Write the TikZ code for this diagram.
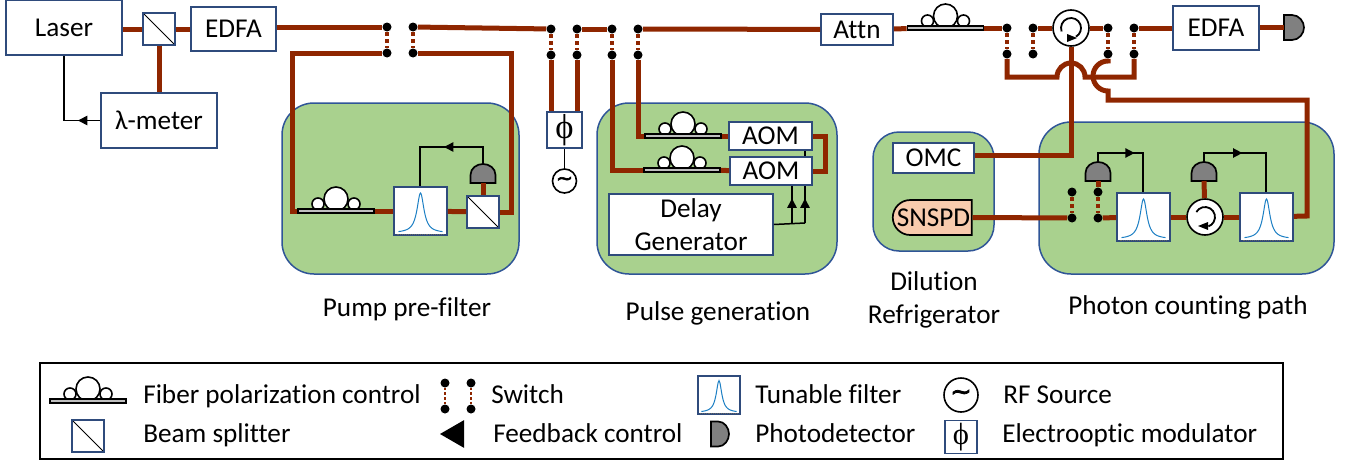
\documentclass[tikz,border=0pt]{standalone}
\usepackage{fontspec}
\setmainfont[Ligatures=NoCommon]{Carlito}
\newfontfamily\tildefont[FakeBold=3]{DejaVu Sans}
\newfontfamily\phifont{Liberation Serif}
\usetikzlibrary{arrows.meta,decorations.markings,shapes.misc,shapes.geometric}
\definecolor{fibercol}{HTML}{8F2600}
\definecolor{boxblue}{HTML}{2F4B7C}
\definecolor{panelgreen}{HTML}{A9D18E}
\definecolor{panelblue}{HTML}{2F5597}
\definecolor{peach}{HTML}{F8CBAD}
\definecolor{peakblue}{HTML}{1C7FC4}
\def\px{0.75pt}
\tikzset{
  sized/.style 2 args={minimum width=#1*\px,minimum height=#2*\px},
  box/.style={draw=boxblue,line width=1.7*\px,fill=white,inner sep=0pt,align=center},
  bsbox/.style={box,sized={32}{32},path picture={\draw[black,line width=1*\px]
    (path picture bounding box.north west) -- (path picture bounding box.south east);}},
  panel/.style={draw=panelblue,line width=1.5*\px,fill=panelgreen,rounded corners=#1*\px,inner sep=0pt},
  fiber/.style={draw=fibercol,line width=5*\px},
  ctrl/.style={draw=black,line width=1.5*\px},
  fbmark/.style={postaction={decorate,decoration={markings,
    mark=at position #1 with {\arrow{Triangle[length=7pt,width=7pt]}}}}},
  dot/.style={circle,fill=black,inner sep=0pt,minimum size=9*\px},
  swdash/.style={draw=fibercol,line width=3.5*\px,dash pattern=on 3pt off 2.5pt},
  pdbody/.style={draw=black,line width=1.7*\px,fill=black!50},
  loopline/.style={black,line width=1.6*\px,fill=white},
  wheel/.style={circle,draw=black,line width=1.6*\px,fill=white,inner sep=0pt,minimum size=#1*\px},
  lbl/.style={inner sep=0pt,anchor=base west},
  pics/fpc/.style={code={
    \draw[loopline] (-18,-7) circle (6);
    \draw[loopline] (18,-7) circle (6);
    \draw[loopline] (0,-12) circle (12);
    \node[draw=black,line width=1.6*\px,fill=black!25,inner sep=0pt,sized={76}{4}] (-bar) at (0,0) {};
  }},
  pics/tfilter/.style={code={
    \node[box,sized={53}{48}] (-box) at (0,0) {};
    \draw[peakblue,line width=1*\px] plot[smooth,domain=-22:22,samples=45] (\x,{22-40/(1+(\x/4.2)^2)});
    \draw[black!60,line width=.6*\px,densely dotted] (-24,23) -- (24,23);
  }},
  pics/pdup/.style={code={
    \draw[pdbody] (-12.5,0) -- (-12.5,-8) .. controls (-12.5,-15) and (-6,-19) .. (0,-19)
      .. controls (6,-19) and (12.5,-15) .. (12.5,-8) -- (12.5,0) -- cycle;
    \coordinate (-base) at (0,0);
    \coordinate (-top) at (0,-19);
  }},
  pics/pdright/.style={code={
    \draw[pdbody] (0,-12.5) -- (8,-12.5) .. controls (15,-12.5) and (20,-6) .. (20,0)
      .. controls (20,6) and (15,12.5) .. (8,12.5) -- (0,12.5) -- cycle;
    \coordinate (-base) at (0,0);
  }},
  pics/switch/.style={code={
    \node[dot] (-a) at (0,0) {};
    \node[dot] (-b) at (0,26) {};
    \node[dot] (-c) at (26,0) {};
    \node[dot] (-d) at (26,26) {};
    \draw[swdash] (-a) -- (-b);
    \draw[swdash] (-c) -- (-d);
  }},
}
\begin{document}
\begin{tikzpicture}[x=0.75pt,y=-0.75pt,font=\fontsize{20.4}{24.7}\selectfont]
    \useasboundingbox (0,0) rectangle (1356,464);

    % green panels
    \node[panel=32,sized={237}{171}] (pumpPanel) at (400.5,188.5) {};
    \node[panel=32,sized={240}{171}] (pulsePanel) at (717,188.5) {};
    \node[panel=26,sized={121}{119}] (fridgePanel) at (933.5,191.5) {};
    \node[panel=32,sized={295}{152}] (countPanel) at (1186.5,198) {};

    % source and top row
    \node[box,sized={116}{55}] (laser) at (64,27.5) {Laser};
    \node[bsbox] (bsA) at (159,29) {};
    \node[box,sized={85}{44}] (edfaA) at (233.5,29) {EDFA};
    \node[box,sized={116}{55}] (lmeter) at (159,120.5) {λ-meter};
    \pic (swA) at (387,27) {switch};
    \pic (swB) at (551,29) {switch};
    \pic (swC) at (612,29) {switch};
    \node[box,sized={72}{31}] (attn) at (857,29.5) {Attn};
    \pic (fpcD) at (945.5,28) {fpc};
    \pic (swD) at (1007,28) {switch};
    \pic (swE) at (1108,28) {switch};
    \node[wheel=36] (circA) at (1071,28) {};
    \node[box,sized={86}{44}] (edfaB) at (1216,28) {EDFA};
    \pic (pdD) at (1284,27.5) {pdright};

    % pump pre-filter
    \pic (fpcA) at (336,211) {fpc};
    \pic (filtA) at (420.5,211) {tfilter};
    \node[bsbox] (bsB) at (483,212) {};
    \pic (pdA) at (483,183) {pdup};
    \coordinate (pumpL) at (292,211);
    \coordinate (pumpR) at (511,212);
    \coordinate (fbA) at (420,147);

    % pulse generation
    \node[box,sized={35}{36}] (eom) at (564.5,130) {\phifont\fontsize{26}{28}\selectfont ϕ};
    \node[wheel=24] (rf) at (564.5,181) {\tildefont\fontsize{15}{15}\selectfont ∼};
    \pic (fpcB) at (683,136) {fpc};
    \pic (fpcC) at (682,170) {fpc};
    \coordinate (aomLoop) at (825,136);
    \coordinate (trigA) at (792,223);
    \coordinate (trigB) at (805,223);
    \draw[ctrl] (trigB) -- (805,150);
    \node[box,sized={83}{28}] (aomA) at (770.5,136) {AOM};
    \node[box,sized={82}{28}] (aomB) at (771,171) {AOM};
    \node[box,sized={164}{61}] (delay) at (691,224.5) {Delay\\Generator};

    % dilution refrigerator
    \node[box,sized={81}{30}] (omc) at (933.5,158) {OMC};
    \node[rounded rectangle,rounded rectangle east arc=none,draw=black,line width=1.7*\px,fill=peach,
      inner sep=0pt,sized={79}{35}] (snspd) at (933.5,217.5) {SNSPD};
    \coordinate (omcTurn) at (1071,155);

    % photon counting path
    \pic (swF) at (1072,192) {switch};
    \pic (filtB) at (1143.5,217) {tfilter};
    \node[wheel=36] (circB) at (1205,217) {};
    \pic (filtC) at (1266.5,217) {tfilter};
    \pic (pdB) at (1098,181) {pdup};
    \pic (pdC) at (1204,181) {pdup};
    \coordinate (fbB) at (1143,153);
    \coordinate (fbC) at (1266,153);
    \coordinate (retTurn) at (1307,216);

    % fiber paths
    \draw[fiber] (laser.east |- bsA) -- (bsA);
    \draw[fiber] (bsA) -- (edfaA);
    \draw[fiber] (bsA) -- (bsA |- lmeter.north);
    \draw[fiber] (edfaA.east |- swA-a) -- (swA-a);
    \draw[fiber] (swA-c) -- (swB-a);
    \draw[fiber] (swB-c) -- (swC-a);
    \draw[fiber] (swC-c) -- (attn);
    \draw[fiber] (attn) -- (fpcD-bar);
    \draw[fiber] (fpcD-bar) -- (swD-a);
    \draw[fiber] (swD-c) -- (circA);
    \draw[fiber] (circA) -- (swE-a);
    \draw[fiber] (swE-c) -- (edfaB);
    \draw[fiber] (edfaB.east |- pdD-base) -- (pdD-base);
    \draw[fiber] (swA-b) -| (pumpL) -- (fpcA-bar);
    \draw[fiber] (swA-d) -| (pumpR) -- (bsB);
    \draw[fiber] (fpcA-bar) -- (filtA-box);
    \draw[fiber] (filtA-box) -- (bsB);
    \draw[fiber] (bsB) -- (pdA-base);
    \draw[fiber] (swB-b) -- (swB-b |- eom.north);
    \draw[fiber] (swB-d) -- (swB-d |- eom.north);
    \draw[fiber] (swC-d) |- (fpcB-bar);
    \draw[fiber] (swC-b) |- (fpcC-bar);
    \draw[fiber] (fpcB-bar) -- (aomA);
    \draw[fiber] (fpcC-bar) -- (aomB);
    \draw[fiber] (aomA) -- (aomLoop) |- (aomB);
    \draw[fiber] (omcTurn -| omc.east) -- (omcTurn) -- (circA);
    \draw[fiber] (swD-b) |- (1057,77) arc[start angle=180,end angle=360,radius=14] -| (swE-d);
    \draw[fiber] (swE-b) -- (1108,61) arc[start angle=270,end angle=90,radius=15] -- (1108,100) -| (retTurn) -- (filtC-box);
    \draw[fiber] (snspd.east) -- (swF-b);
    \draw[fiber] (swF-d) -- (filtB-box);
    \draw[fiber] (filtB-box) -- (circB);
    \draw[fiber] (circB) -- (filtC-box);
    \draw[fiber] (circB) -- (pdC-base);
    \draw[fiber] (swF-c) -- (pdB-base);

    % control lines
    \draw[ctrl,fbmark=0.22] (lmeter.west) -| (laser.south);
    \draw[ctrl,fbmark=0.47] (pdA-top) |- (fbA) -- (filtA-box.north -| fbA);
    \draw[ctrl] (eom) -- (rf);
    \draw[ctrl] (delay.east) -- (trigB);
    \draw[ctrl,fbmark=0.66] (trigA) -- (trigA |- aomB.south);
    \draw[ctrl,fbmark=0.66] (trigB) -- (trigB |- aomB.south);
    \draw[ctrl,fbmark=0.49] (pdB-top) |- (fbB) -- (fbB |- filtB-box.north);
    \draw[ctrl,fbmark=0.43] (pdC-top) |- (fbC) -- (fbC |- filtC-box.north);

    % circulator arrows
    \draw[black,line width=1.8*\px] ([shift={(160:10)}]circA.center) arc[start angle=160,end angle=420,radius=10];
    \fill[black] ([shift={(-4,6)}]circA.center) -- ([shift={(-4,14)}]circA.center) -- ([shift={(6,10)}]circA.center) -- cycle;
    \draw[black,line width=1.8*\px] ([shift={(210:10)}]circB.center) arc[start angle=210,end angle=430,radius=10];
    \fill[black] ([shift={(3,5)}]circB.center) -- ([shift={(3,13)}]circB.center) -- ([shift={(-7,9)}]circB.center) -- cycle;

    % labels
    \node (pumpLbl) at (407,309) {Pump pre-filter};
    \node (pulseLbl) at (718,313) {Pulse generation};
    \node[align=center] (fridgeLbl) at (934,300) {Dilution\\Refrigerator};
    \node (countLbl) at (1188,307) {Photon counting path};

    % legend
    \node[draw=black,line width=2.5*\px,inner sep=0pt,sized={1243}{96}] (legendFrame) at (661.5,411) {};
    \pic (keyFpc) at (88,401) {fpc};
    \node[lbl] (keyFpcLbl) at (143,403) {Fiber polarization control};
    \begin{scope}[swdash/.append style={line width=1.7*\px,dash pattern=on 2pt off 1.5pt}]
    \pic (keySw) at (445,383) {switch};
    \end{scope}
    \node[lbl] (keySwLbl) at (491,403) {Switch};
    \pic[scale=0.8,transform shape] (keyFilt) at (719,395) {tfilter};
    \node[lbl] (keyFiltLbl) at (755,403) {Tunable filter};
    \node[wheel=34] (keyRf) at (961,395) {\tildefont\fontsize{19}{19}\selectfont ∼};
    \node[lbl] (keyRfLbl) at (1003,403) {RF Source};
    \node[bsbox] (keyBs) at (88,436) {};
    \node[lbl] (keyBsLbl) at (143,442) {Beam splitter};
    \node[isosceles triangle,isosceles triangle apex angle=60,shape border rotate=180,fill=black,
      inner sep=0pt,minimum height=24*\px] (keyFb) at (456,434) {};
    \node[lbl] (keyFbLbl) at (493,442) {Feedback control};
    \pic[xscale=0.9] (keyPd) at (711,434) {pdright};
    \node[lbl] (keyPdLbl) at (755,442) {Photodetector};
    \node[box,sized={32}{33}] (keyEom) at (961,437) {\phifont\fontsize{23}{25}\selectfont ϕ};
    \node[lbl] (keyEomLbl) at (1002,442) {Electrooptic modulator};
\end{tikzpicture}
\end{document}
